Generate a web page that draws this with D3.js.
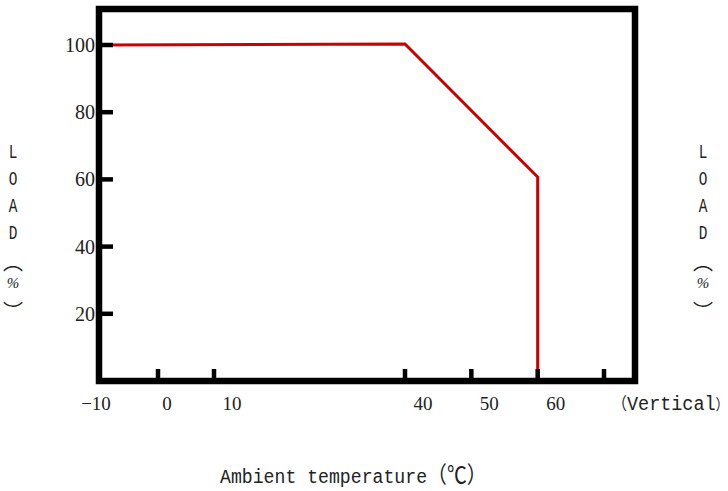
<!DOCTYPE html>
<html>
<head>
<meta charset="utf-8">
<script src="https://cdn.jsdelivr.net/npm/d3@7"></script>
<style>
  body { margin: 0; background: #fff; }
  svg { display: block; }
</style>
</head>
<body>
<div id="chart"></div>
<script>
// derating curve: load (%) vs ambient temperature
const temperature = [-10, 40, 60, 60];
const load = [100, 100.3, 60.7, 0];

const xTicks = [0, 10, 40, 50, 60, 70];
const xLabels = [-10, 0, 10, 40, 50, 60];
const yTicks = [20, 40, 60, 80, 100];
const axisTitleChars = ["L", "O", "A", "D", "\uFE35", "%", "\uFE36"];

const width = 728, height = 491;
const frame = { left: 99, top: 9, right: 635, bottom: 381 };

const svg = d3.select("#chart").append("svg")
    .attr("width", width)
    .attr("height", height);

// the original axis is not evenly spaced, so use a piecewise linear scale
const x = d3.scaleLinear()
    .domain([-10, 0, 10, 40, 70])
    .range([frame.left, 158, 214, 405, 604]);

const y = d3.scaleLinear()
    .domain([0, 100])
    .range([frame.bottom, 45]);

const line = d3.line()
    .x(d => x(d[0]))
    .y(d => y(d[1]));

svg.append("path")
    .datum(d3.zip(temperature, load))
    .attr("d", line)
    .attr("fill", "none")
    .attr("stroke", "#cc0000")
    .attr("stroke-width", 3)
    .attr("stroke-linejoin", "miter");

// frame
svg.append("rect")
    .attr("x", frame.left)
    .attr("y", frame.top)
    .attr("width", frame.right - frame.left)
    .attr("height", frame.bottom - frame.top)
    .attr("fill", "none")
    .attr("stroke", "#000")
    .attr("stroke-width", 6.5);

// inward ticks
svg.append("g").selectAll("line")
    .data(xTicks)
    .join("line")
    .attr("x1", d => x(d)).attr("x2", d => x(d))
    .attr("y1", frame.bottom).attr("y2", frame.bottom - 12)
    .attr("stroke", "#000").attr("stroke-width", 4.5);

svg.append("g").selectAll("line")
    .data(yTicks)
    .join("line")
    .attr("x1", frame.left).attr("x2", frame.left + 14)
    .attr("y1", d => y(d)).attr("y2", d => y(d))
    .attr("stroke", "#000").attr("stroke-width", 4.5);

const numFont = "'Liberation Serif', 'DejaVu Serif', serif";
const monoFont = "'Liberation Mono', monospace";
const cjkFont = "'Noto Sans CJK SC', sans-serif";

// x labels sit a little right of their ticks in the original
svg.append("g").selectAll("text")
    .data(xLabels)
    .join("text")
    .attr("x", d => x(d) + (d < 0 ? -3 : d === 0 ? 9 : 18))
    .attr("y", 410)
    .attr("text-anchor", "middle")
    .style("font-family", numFont)
    .style("font-size", "19px")
    .attr("fill", "#222")
    .text(d => d < 0 ? "\u2212" + Math.abs(d) : d);

svg.append("g").selectAll("text")
    .data(yTicks)
    .join("text")
    .attr("x", 95)
    .attr("y", d => y(d))
    .attr("dy", "0.35em")
    .attr("text-anchor", "end")
    .style("font-family", numFont)
    .style("font-size", "20px")
    .attr("fill", "#222")
    .text(d => d);

// narrow, tall mono text like the SimSun original (mixed latin + fullwidth parts)
function mixedText(parts, xPos, yPos, squeeze) {
    const t = svg.append("text")
        .attr("transform", `translate(${xPos},${yPos}) scale(${squeeze},1)`)
        .attr("fill", "#222");
    parts.forEach(p => {
        t.append("tspan")
            .style("font-family", p.cjk ? cjkFont : monoFont)
            .style("font-size", p.size + "px")
            .text(p.text);
    });
    return t;
}

mixedText([
    { text: "\uFF08", cjk: true, size: 17 },
    { text: "Vertical", cjk: false, size: 21 },
    { text: "\uFF09", cjk: true, size: 15 }
], 612, 410, 0.88);

mixedText([
    { text: "Ambient temperature", cjk: false, size: 21 },
    { text: "\uFF08\u2103\uFF09", cjk: true, size: 23 }
], 220, 483, 0.865);

// vertical LOAD (%) titles on both sides
const titleY = [152, 179, 206, 233, 261, 283, 310];
[13, 703].forEach(cx => {
    const g = svg.append("g");
    axisTitleChars.forEach((ch, i) => {
        const isBracket = ch === "\uFE35" || ch === "\uFE36";
        const t = g.append("text")
            .attr("transform", `translate(${cx},${titleY[i]}) scale(${isBracket || ch === "%" ? 1 : 0.72},1)`)
            .attr("text-anchor", "middle")
            .attr("dominant-baseline", "central")
            .attr("fill", "#222")
            .text(ch);
        if (isBracket) {
            t.style("font-family", cjkFont).style("font-size", "20px");
        } else if (ch === "%") {
            t.style("font-family", numFont).style("font-size", "15px").style("font-style", "italic");
        } else {
            t.style("font-family", monoFont).style("font-size", "20px");
        }
    });
});
</script>
</body>
</html>
